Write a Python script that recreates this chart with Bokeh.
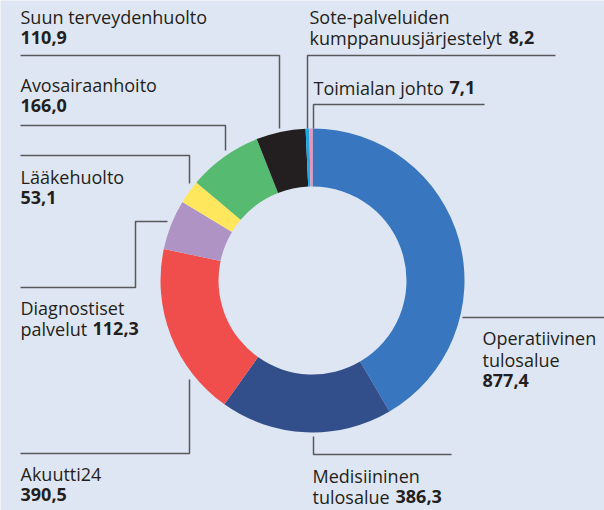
import math
from bokeh.plotting import figure
from bokeh.models import Range1d
from bokeh.core.properties import value
from bokeh.embed import file_html
from bokeh.resources import INLINE

# ---- data ----
categories = ["Operatiivinen tulosalue", "Medisiininen tulosalue", "Akuutti24",
              "Diagnostiset palvelut", "Lääkehuolto", "Avosairaanhoito",
              "Suun terveydenhuolto", "Sote-palveluiden kumppanuusjärjestelyt",
              "Toimialan johto"]
values = [877.4, 386.3, 390.5, 112.3, 53.1, 166.0, 110.9, 8.2, 7.1]
colors = ["#3877bf", "#334f8b", "#ef4e4c", "#b093c5", "#fee75d", "#56ba71",
          "#231f20", "#1ca9e1", "#f390b6"]

# ---- layout (reference pixel coordinates) ----
BG = "#dfe6f3"
INK = "#231f20"
LINE = "#57585b"
FONT = "Open Sans"
FS = "18px"
TEXT_DY = 8
CX, CY = 312, 280
R_OUT, R_IN = 152, 94

def fmt(v):
    return f"{v:.1f}".replace(".", ",")

# label lines: (regular text, has bold value, x_regular, x_bold, baseline)
label_layout = [
    [("Operatiivinen", False, 482, 0, 345), ("tulosalue", False, 482, 0, 367), ("", True, 482, 482, 388)],
    [("Medisiininen", False, 312, 0, 483), ("tulosalue", True, 312, 395, 504)],
    [("Akuutti24", False, 20, 0, 481), ("", True, 20, 20, 502)],
    [("Diagnostiset", False, 20, 0, 315), ("palvelut", True, 20, 92, 336)],
    [("Lääkehuolto", False, 20, 0, 184), ("", True, 20, 20, 205)],
    [("Avosairaanhoito", False, 20, 0, 92), ("", True, 20, 20, 113)],
    [("Suun terveydenhuolto", False, 20, 0, 24), ("", True, 20, 20, 45)],
    [("Sote-palveluiden", False, 309, 0, 24), ("kumppanuusjärjestelyt", True, 309, 508, 45)],
    [("Toimialan johto", True, 313, 449, 95)],
]
leaders = [
    [(462, 317), (604, 317)],
    [(313, 436), (313, 454), (451, 454)],
    [(189, 379), (189, 453), (20, 453)],
    [(167, 221), (135, 221), (135, 287), (20, 287)],
    [(20, 155), (189, 155), (189, 183)],
    [(20, 125), (225, 125), (225, 150)],
    [(20, 55), (279, 55), (279, 128)],
    [(307, 128), (307, 55), (555, 55)],
    [(313, 128), (313, 104), (484, 104)],
]

W, H = 604, 510

def Y(py):
    return H - py

p = figure(width=W, height=H, output_backend="svg", toolbar_location=None,
           x_range=Range1d(0, W), y_range=Range1d(0, H), min_border=0)
p.axis.visible = False
p.grid.visible = False
p.outline_line_color = None
p.background_fill_color = BG
p.border_fill_color = BG

# donut: clockwise from top
total = sum(values)
cur = math.pi / 2
starts, ends = [], []
for v in values:
    a = v / total * 2 * math.pi
    ends.append(cur)
    starts.append(cur - a)
    cur -= a
p.annular_wedge(x=[CX] * len(values), y=[Y(CY)] * len(values),
                inner_radius=R_IN, outer_radius=R_OUT,
                start_angle=starts, end_angle=ends, fill_color=colors,
                line_color=None)

# leader lines
for pts in leaders:
    p.line([q[0] for q in pts], [Y(q[1]) for q in pts], line_color=LINE, line_width=1.5)

# labels
for v, lines in zip(values, label_layout):
    for reg, bold, xr, xb, yb in lines:
        if reg:
            p.text(x=[xr], y=[Y(yb - TEXT_DY)], text=[reg], text_font=value(FONT),
                   text_font_size=FS, text_color=INK, text_baseline="alphabetic")
        if bold:
            p.text(x=[xb], y=[Y(yb - TEXT_DY)], text=[fmt(v)], text_font=value(FONT),
                   text_font_size=FS, text_font_style="bold", text_color=INK,
                   text_baseline="alphabetic")

html = file_html(p, INLINE)
html = html.replace("<body>", f'<body style="background:{BG};margin:0">', 1)
open("out.html", "w").write(html)
